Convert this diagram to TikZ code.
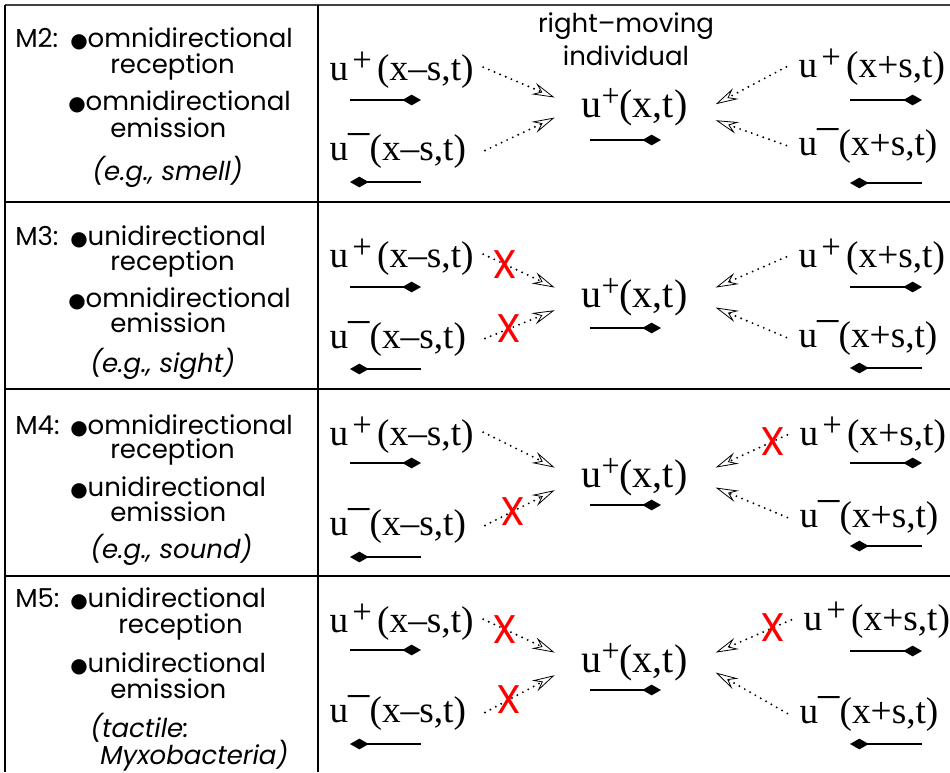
\documentclass[tikz,border=0pt]{standalone}
\usepackage{fontspec}
\setmainfont{Poppins}
\newfontfamily\termfont{Liberation Serif}
\newfontfamily\symfont{DejaVu Sans}
\usetikzlibrary{arrows.meta,positioning,calc}

\newcommand{\bul}{{\symfont\fontsize{15pt}{15pt}\selectfont ●}}
\newcommand{\upl}{\kern3pt\raisebox{6.5pt}{\fontsize{26pt}{26pt}\selectfont +}\kern4pt}
\newcommand{\umi}{\raisebox{12pt}{\fontsize{32pt}{32pt}\selectfont –}}
\newcommand{\cpl}{\raisebox{8pt}{\fontsize{24pt}{24pt}\selectfont +}}

\tikzset{
  desc/.style={anchor=base west, inner sep=0pt, font=\fontsize{19.5pt}{23pt}\selectfont},
  term/.style={anchor=base west, inner sep=1pt, font=\termfont\fontsize{28pt}{32pt}\selectfont},
  self/.style={anchor=base west, inner sep=1pt, font=\termfont\fontsize{30pt}{34pt}\selectfont},
  sig/.style={line width=1.6pt, line cap=round, dash pattern=on 0pt off 4.6pt,
    -{Stealth[open, length=17pt, width=9pt, inset=6pt, line width=0.6pt]}},
  dir/.style={line width=1.4pt, -{Diamond[length=14pt, width=8pt]}},
  nox/.style={text=red, inner sep=0pt, font=\fontsize{30pt}{30pt}\selectfont},
  frame/.style={line width=1.2pt}
}

\begin{document}
\begin{tikzpicture}[x=0.75pt, y=-0.75pt]
\useasboundingbox (0,0) rectangle (950,772);

% table frame
\draw[frame, black!75] (5,5) -- (950,5);
\draw[frame] (5,5) -- (5,772);
\draw[frame] (318,5) -- (318,772);
\foreach \y in {202,389,576}
  \draw[frame] (5,\y) -- (950,\y);

% left column: mechanisms
\node[desc] (m2) at (15,47) {M2:};
\node[desc] (m2a) at (70,47) {\bul omnidirectional};
\node[desc] (m2b) at (110,73) {reception};
\node[desc] (m2c) at (68,110) {\bul omnidirectional};
\node[desc] (m2d) at (110,137) {emission};
\node[desc] (m2e) at (92,180) {\textit{(e.g., smell)}};

\node[desc] (m3) at (15,245) {M3:};
\node[desc] (m3a) at (70,245) {\bul unidirectional};
\node[desc] (m3b) at (110,270) {reception};
\node[desc] (m3c) at (68,307) {\bul omnidirectional};
\node[desc] (m3d) at (110,332) {emission};
\node[desc] (m3e) at (90,372) {\textit{(e.g., sight)}};

\node[desc] (m4) at (15,434) {M4:};
\node[desc] (m4a) at (70,434) {\bul omnidirectional};
\node[desc] (m4b) at (110,458) {reception};
\node[desc] (m4c) at (70,496) {\bul unidirectional};
\node[desc] (m4d) at (110,521) {emission};
\node[desc] (m4e) at (90,558) {\textit{(e.g., sound)}};

\node[desc] (m5) at (15,607) {M5:};
\node[desc] (m5a) at (70,607) {\bul unidirectional};
\node[desc] (m5b) at (118,633) {reception};
\node[desc] (m5c) at (70,672) {\bul unidirectional};
\node[desc] (m5d) at (110,698) {emission};
\node[desc] (m5e) at (90,737) {\textit{(tactile:}};
\node[desc] (m5f) at (100,764) {\textit{Myxobacteria)}};

% header
\node[desc, anchor=base] (hdr1) at (626,32) {right–moving};
\node[desc, anchor=base] (hdr2) at (626,65) {individual};

% densities
\node[term] (mp1) at (328,80) {u\upl(x–s,t)};
\node[term] (mm1) at (328,160) {u\umi(x–s,t)};
\node[self] (c1) at (580,117) {u\cpl(x,t)};
\node[term] (pp1) at (797,77) {u\upl(x+s,t)};
\node[term] (pm1) at (797,155) {u\umi(x+s,t)};

\node[term] (mp2) at (328,267) {u\upl(x–s,t)};
\node[term] (mm2) at (328,348) {u\umi(x–s,t)};
\node[self] (c2) at (580,307) {u\cpl(x,t)};
\node[term] (pp2) at (797,267) {u\upl(x+s,t)};
\node[term] (pm2) at (797,347) {u\umi(x+s,t)};

\node[term] (mp3) at (328,445) {u\upl(x–s,t)};
\node[term] (mm3) at (328,535) {u\umi(x–s,t)};
\node[self] (c3) at (580,487) {u\cpl(x,t)};
\node[term] (pp3) at (798,445) {u\upl(x+s,t)};
\node[term] (pm3) at (798,527) {u\umi(x+s,t)};

\node[term] (mp4) at (328,632) {u\upl(x–s,t)};
\node[term] (mm4) at (328,722) {u\umi(x–s,t)};
\node[self] (c4) at (580,672) {u\cpl(x,t)};
\node[term] (pp4) at (802,630) {u\upl(x+s,t)};
\node[term] (pm4) at (798,723) {u\umi(x+s,t)};

% moving directions
\foreach \a/\b/\c/\d/\e in {100/182/140/100/183, 287/369/328/287/368,
                            463/557/505/463/546, 650/744/690/651/744} {
  \draw[dir] (350,\a) -- (421,\a);
  \draw[dir] (421,\b) -- (350,\b);
  \draw[dir] (590,\c) -- (661,\c);
  \draw[dir] (850,\d) -- (922,\d);
  \draw[dir] (922,\e) -- (850,\e);
}

% signals
\draw[sig] ([xshift=6pt,yshift=2pt]mp1.east) -- ([xshift=-19pt,yshift=7pt]c1.west);
\draw[sig] ([xshift=13pt]mm1.east) -- ([xshift=-19pt,yshift=-8pt]c1.west);
\draw[sig] ([xshift=-8pt]pp1.west) -- ([xshift=20pt,yshift=2pt]c1.east);
\draw[sig] ([xshift=-8pt]pm1.west) -- ([xshift=20pt,yshift=-10pt]c1.east);

\draw[sig] ([xshift=6pt,yshift=2pt]mp2.east) -- ([xshift=-19pt,yshift=7pt]c2.west)
  node[nox, pos=0.3] {X};
\draw[sig] ([xshift=13pt]mm2.east) -- ([xshift=-19pt,yshift=-10pt]c2.west)
  node[nox, pos=0.35] {X};
\draw[sig] ([xshift=-8pt]pp2.west) -- ([xshift=20pt,yshift=7pt]c2.east);
\draw[sig] ([xshift=-8pt]pm2.west) -- ([xshift=20pt,yshift=-8pt]c2.east);

\draw[sig] ([xshift=6pt,yshift=2pt]mp3.east) -- ([xshift=-19pt,yshift=7pt]c3.west);
\draw[sig] ([xshift=13pt]mm3.east) -- ([xshift=-19pt,yshift=-10pt]c3.west)
  node[nox, pos=0.4] {X};
\draw[sig] ([xshift=-8pt]pp3.west) -- ([xshift=20pt,yshift=7pt]c3.east)
  node[nox, pos=0.2] {X};
\draw[sig] ([xshift=-8pt]pm3.west) -- ([xshift=20pt,yshift=-8pt]c3.east);

\draw[sig] ([xshift=6pt,yshift=2pt]mp4.east) -- ([xshift=-19pt,yshift=7pt]c4.west)
  node[nox, pos=0.3] {X};
\draw[sig] ([xshift=13pt]mm4.east) -- ([xshift=-19pt,yshift=-10pt]c4.west)
  node[nox, pos=0.35] {X};
\draw[sig] ([xshift=-8pt]pp4.west) -- ([xshift=20pt,yshift=7pt]c4.east)
  node[nox, pos=0.25] {X};
\draw[sig] ([xshift=-8pt]pm4.west) -- ([xshift=20pt,yshift=-8pt]c4.east);
\end{tikzpicture}
\end{document}
